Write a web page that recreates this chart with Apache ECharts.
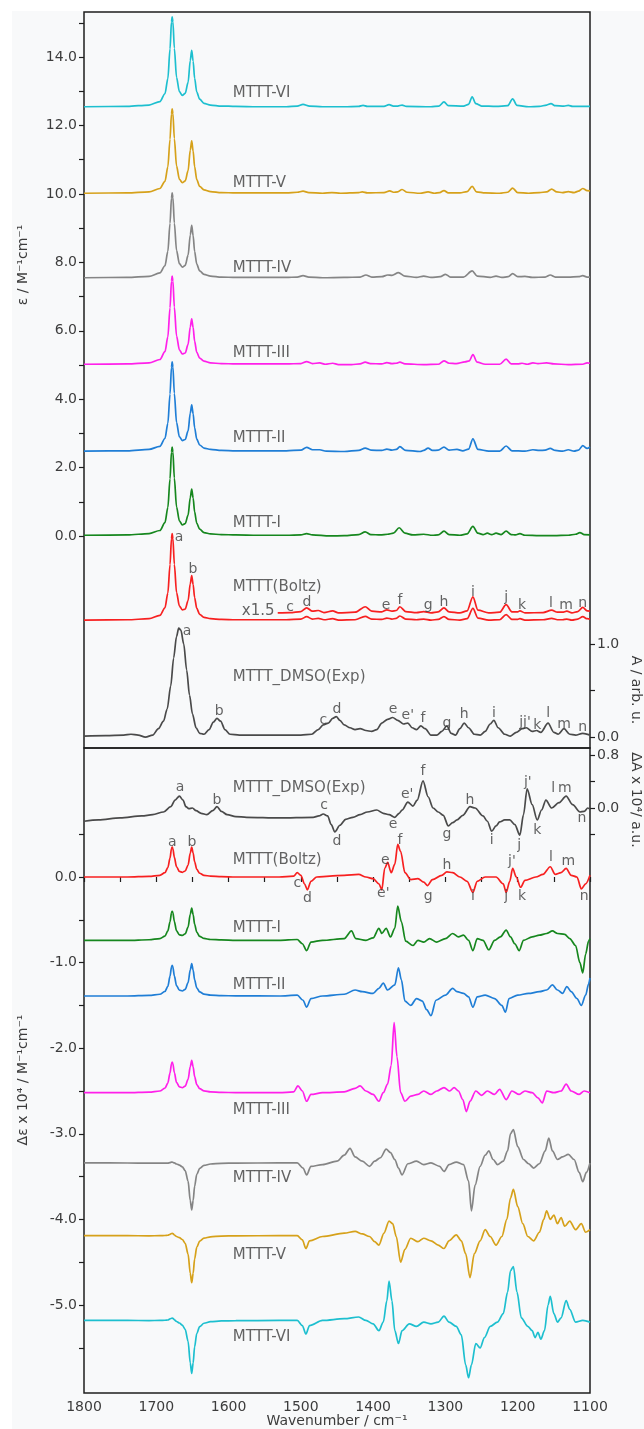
<!DOCTYPE html>
<html>
<head>
<meta charset="utf-8">
<script src="https://cdn.jsdelivr.net/npm/echarts@6/dist/echarts.min.js"></script>
<style>html,body{margin:0;padding:0;background:#fff}#chart{width:644px;height:1429px}</style>
</head>
<body>
<div id="chart"></div>
<script>
// ---- tick values ----
var xLabelVals = [1100, 1200, 1300, 1400, 1500, 1600, 1700, 1800];
var topLeftTicks = [0, 1, 2, 3, 4, 5, 6, 7, 8, 9, 10, 11, 12, 13, 14, 15];
var topLeftLabels = [0, 2, 4, 6, 8, 10, 12, 14];
var topRightTicks = [0, 0.5, 1.0];
var topRightLabels = [0, 1.0];
var botLeftTicks = [-5.5, -5, -4.5, -4, -3.5, -3, -2.5, -2, -1.5, -1, -0.5, 0, 0.5];
var botLeftLabels = [-5, -4, -3, -2, -1, 0];
var botRightTicks = [-0.4, 0, 0.4, 0.8];
var botRightLabels = [0, 0.8];

// ---- IR spectra (epsilon, offset) ----
var irVI = [[1800,12.55],[1740,12.56],[1710,12.6],[1695,12.7],[1688,12.93],[1684,13.37],[1681,14.24],[1679,15.03],[1678,15.18],[1677,15.03],[1675,14.26],[1672,13.41],[1668,12.99],[1664,12.88],[1660,12.94],[1656,13.26],[1653,13.9],[1651,14.2],[1649,13.88],[1647,13.39],[1644,12.98],[1640,12.77],[1634,12.65],[1625,12.6],[1610,12.57],[1590,12.56],
  [1560,12.55],[1520,12.55],[1505,12.57],[1497,12.62],[1488,12.57],[1470,12.55],[1440,12.55],[1420,12.56],[1414,12.59],[1408,12.56],[1385,12.56],[1378,12.61],[1372,12.57],[1366,12.57],[1360,12.6],[1354,12.56],[1320,12.55],[1309,12.57],[1302,12.69],[1296,12.58],[1275,12.57],[1268,12.62],[1263,12.84],[1258,12.64],[1250,12.57],[1230,12.56],[1214,12.58],[1207,12.78],[1201,12.59],[1185,12.55],[1170,12.56],[1160,12.6],[1154,12.64],[1148,12.58],[1136,12.57],[1130,12.59],[1124,12.56],[1100,12.56]];
var irV = [[1800,10.02],[1740,10.03],[1710,10.06],[1695,10.16],[1688,10.37],[1684,10.79],[1681,11.6],[1679,12.34],[1678,12.49],[1677,12.35],[1675,11.62],[1672,10.82],[1668,10.43],[1664,10.33],[1660,10.38],[1656,10.68],[1653,11.28],[1651,11.55],[1649,11.25],[1647,10.8],[1644,10.42],[1640,10.22],[1634,10.12],[1625,10.07],[1610,10.04],[1590,10.03],
  [1560,10.03],[1520,10.03],[1505,10.05],[1497,10.08],[1489,10.04],[1470,10.02],[1457,10.04],[1445,10.02],[1420,10.04],[1415,10.06],[1408,10.03],[1385,10.04],[1377,10.09],[1372,10.05],[1366,10.06],[1360,10.13],[1353,10.05],[1335,10.02],[1324,10.06],[1315,10.02],[1308,10.04],[1302,10.1],[1296,10.03],[1280,10.03],[1270,10.07],[1263,10.22],[1257,10.06],[1245,10.03],[1225,10.02],[1214,10.05],[1207,10.17],[1200,10.04],[1185,10.02],[1170,10.04],[1160,10.06],[1153,10.14],[1146,10.06],[1138,10.04],[1130,10.07],[1122,10.04],[1116,10.08],[1110,10.16],[1104,10.1],[1100,10.09]];
var irIV = [[1800,7.55],[1740,7.56],[1710,7.59],[1695,7.69],[1688,7.9],[1684,8.32],[1681,9.14],[1679,9.88],[1678,10.03],[1677,9.89],[1675,9.15],[1672,8.35],[1668,7.96],[1664,7.86],[1660,7.91],[1656,8.21],[1653,8.8],[1651,9.08],[1649,8.78],[1647,8.32],[1644,7.95],[1640,7.75],[1634,7.65],[1625,7.6],[1610,7.57],[1590,7.56],
  [1560,7.56],[1520,7.56],[1505,7.57],[1497,7.61],[1489,7.57],[1470,7.55],[1440,7.56],[1418,7.57],[1410,7.63],[1402,7.57],[1388,7.58],[1380,7.63],[1374,7.62],[1365,7.7],[1356,7.6],[1340,7.56],[1330,7.6],[1320,7.56],[1307,7.58],[1300,7.65],[1293,7.57],[1275,7.57],[1263,7.75],[1256,7.6],[1238,7.56],[1230,7.6],[1222,7.56],[1213,7.58],[1207,7.67],[1200,7.58],[1190,7.59],[1180,7.56],[1162,7.57],[1155,7.63],[1148,7.57],[1130,7.57],[1116,7.58],[1110,7.61],[1104,7.57],[1100,7.57]];
var irIII = [[1800,5.02],[1740,5.03],[1710,5.06],[1695,5.16],[1688,5.39],[1684,5.82],[1681,6.67],[1679,7.45],[1678,7.6],[1677,7.45],[1675,6.69],[1672,5.85],[1668,5.44],[1664,5.32],[1660,5.35],[1656,5.6],[1653,6.11],[1651,6.35],[1649,6.09],[1647,5.7],[1644,5.37],[1640,5.2],[1634,5.11],[1625,5.06],[1610,5.04],[1590,5.03],
  [1560,5.03],[1520,5.03],[1500,5.04],[1492,5.1],[1484,5.04],[1474,5.06],[1466,5.02],[1456,5.05],[1448,5.01],[1430,5.01],[1418,5.03],[1411,5.08],[1404,5.04],[1388,5.03],[1381,5.07],[1374,5.04],[1368,5.05],[1363,5.08],[1356,5.03],[1330,5.01],[1310,5.02],[1302,5.12],[1295,5.05],[1285,5.04],[1273,5.09],[1267,5.12],[1262,5.3],[1256,5.08],[1245,5.02],[1225,5.02],[1216,5.17],[1209,5.03],[1200,5.03],[1194,5.05],[1187,5.02],[1179,5.06],[1172,5.04],[1160,5.06],[1150,5.03],[1130,5.01],[1110,5.02],[1104,5.06],[1100,5.05]];
var irII = [[1800,2.48],[1740,2.49],[1710,2.53],[1695,2.62],[1688,2.85],[1684,3.29],[1681,4.15],[1679,4.93],[1678,5.09],[1677,4.94],[1675,4.17],[1672,3.32],[1668,2.9],[1664,2.79],[1660,2.82],[1656,3.07],[1653,3.59],[1651,3.83],[1649,3.57],[1647,3.17],[1644,2.83],[1640,2.66],[1634,2.57],[1625,2.53],[1610,2.5],[1590,2.49],
  [1560,2.49],[1520,2.49],[1500,2.51],[1492,2.59],[1484,2.52],[1474,2.52],[1465,2.48],[1440,2.47],[1420,2.5],[1411,2.57],[1403,2.51],[1388,2.5],[1381,2.54],[1374,2.51],[1368,2.53],[1363,2.61],[1355,2.5],[1335,2.47],[1330,2.5],[1324,2.57],[1318,2.5],[1310,2.51],[1302,2.6],[1295,2.51],[1284,2.53],[1276,2.49],[1268,2.54],[1262,2.84],[1255,2.53],[1240,2.48],[1225,2.48],[1216,2.63],[1208,2.49],[1190,2.48],[1179,2.52],[1170,2.5],[1162,2.51],[1155,2.56],[1148,2.5],[1138,2.48],[1130,2.52],[1122,2.48],[1116,2.51],[1110,2.64],[1104,2.56],[1100,2.6]];
var irI = [[1800,0.02],[1740,0.03],[1710,0.07],[1695,0.16],[1688,0.39],[1684,0.83],[1681,1.67],[1679,2.45],[1678,2.6],[1677,2.45],[1675,1.69],[1672,0.85],[1668,0.44],[1664,0.32],[1660,0.36],[1656,0.61],[1653,1.12],[1651,1.37],[1649,1.11],[1647,0.71],[1644,0.37],[1640,0.2],[1634,0.1],[1625,0.06],[1610,0.04],[1590,0.03],
  [1560,0.02],[1520,0.02],[1500,0.03],[1492,0.07],[1484,0.03],[1460,0.0],[1440,0.01],[1420,0.04],[1411,0.12],[1403,0.04],[1390,0.03],[1380,0.05],[1372,0.08],[1364,0.24],[1356,0.08],[1345,0.03],[1330,0.05],[1318,0.02],[1310,0.03],[1302,0.14],[1295,0.04],[1280,0.02],[1270,0.06],[1262,0.28],[1255,0.08],[1248,0.04],[1242,0.08],[1236,0.04],[1230,0.08],[1223,0.04],[1216,0.14],[1209,0.04],[1203,0.03],[1197,0.07],[1190,0.02],[1170,0.01],[1150,0.01],[1130,0.02],[1120,0.05],[1114,0.1],[1108,0.04],[1100,0.03]];
var irBoltz = [[1800,-2.46],[1740,-2.45],[1710,-2.42],[1695,-2.32],[1688,-2.1],[1684,-1.67],[1681,-0.84],[1679,-0.08],[1678,0.07],[1677,-0.08],[1675,-0.83],[1672,-1.65],[1668,-2.05],[1664,-2.16],[1660,-2.14],[1656,-1.89],[1653,-1.4],[1651,-1.16],[1649,-1.42],[1647,-1.8],[1644,-2.12],[1640,-2.29],[1634,-2.38],[1625,-2.42],[1610,-2.44],[1590,-2.45],
  [1560,-2.45],[1520,-2.45],[1500,-2.43],[1492,-2.36],[1484,-2.43],[1476,-2.41],[1468,-2.45],[1456,-2.42],[1448,-2.46],[1425,-2.45],[1411,-2.35],[1402,-2.43],[1388,-2.44],[1381,-2.4],[1374,-2.43],[1368,-2.41],[1363,-2.34],[1355,-2.43],[1340,-2.45],[1330,-2.43],[1320,-2.46],[1310,-2.44],[1302,-2.36],[1295,-2.44],[1280,-2.46],[1270,-2.42],[1262,-2.12],[1255,-2.4],[1240,-2.46],[1225,-2.45],[1216,-2.3],[1208,-2.44],[1200,-2.44],[1197,-2.42],[1190,-2.46],[1165,-2.45],[1153,-2.41],[1145,-2.45],[1138,-2.45],[1132,-2.43],[1125,-2.46],[1117,-2.43],[1110,-2.36],[1104,-2.42],[1100,-2.43]];
var irBoltz15 = [[1532,-2.25],[1515,-2.24],[1500,-2.21],[1492,-2.1],[1484,-2.2],[1476,-2.18],[1468,-2.24],[1456,-2.19],[1448,-2.25],[1425,-2.23],[1411,-2.07],[1402,-2.2],[1388,-2.22],[1381,-2.16],[1374,-2.2],[1368,-2.18],[1363,-2.07],[1355,-2.21],[1340,-2.24],[1330,-2.21],[1320,-2.25],[1310,-2.22],[1302,-2.1],[1295,-2.22],[1280,-2.25],[1270,-2.19],[1262,-1.78],[1255,-2.17],[1240,-2.25],[1225,-2.23],[1216,-2.01],[1208,-2.22],[1200,-2.22],[1197,-2.19],[1190,-2.25],[1165,-2.24],[1153,-2.17],[1145,-2.23],[1138,-2.23],[1132,-2.2],[1125,-2.25],[1117,-2.21],[1110,-2.09],[1104,-2.19],[1100,-2.2]];
// experimental absorbance (right axis, A)
var irExp = [[1800,0.01],[1770,0.015],[1745,0.02],[1735,0.03],[1725,0.02],[1715,0.0],[1705,0.02],[1697,0.09],[1690,0.17],[1685,0.3],[1680,0.55],[1676,0.85],[1672,1.08],[1669,1.17],[1666,1.15],[1662,1.0],[1658,0.72],[1654,0.45],[1650,0.25],[1645,0.1],[1640,0.04],[1634,0.03],[1627,0.08],[1621,0.16],[1616,0.2],[1611,0.17],[1605,0.08],[1598,0.03],[1585,0.02],[1550,0.02],[1500,0.02],[1485,0.03],[1476,0.08],[1469,0.13],[1462,0.15],[1456,0.2],[1451,0.22],[1446,0.18],[1440,0.13],[1432,0.1],[1425,0.08],[1418,0.09],[1410,0.07],[1402,0.06],[1395,0.08],[1388,0.15],[1380,0.19],[1373,0.21],[1366,0.18],[1358,0.14],[1352,0.15],[1346,0.1],[1340,0.08],[1334,0.12],[1328,0.09],[1320,0.02],[1312,0.02],[1305,0.06],[1298,0.12],[1292,0.04],[1286,0.02],[1280,0.09],[1274,0.15],[1268,0.1],[1260,0.03],[1252,0.02],[1245,0.06],[1238,0.14],[1233,0.18],[1227,0.1],[1218,0.03],[1210,0.01],[1202,0.05],[1194,0.09],[1188,0.1],[1180,0.06],[1174,0.07],[1168,0.05],[1158,0.15],[1150,0.05],[1144,0.03],[1136,0.09],[1128,0.03],[1120,0.02],[1110,0.04],[1100,0.02]];

// ---- VCD spectra (delta epsilon, offset) ----
var vcdExp = [[1800,-0.2],[1780,-0.18],[1750,-0.15],[1720,-0.12],[1705,-0.1],[1690,-0.06],[1680,0.02],[1674,0.12],[1668,0.18],[1663,0.12],[1659,0.02],[1655,-0.01],[1650,0.0],[1645,-0.04],[1638,-0.08],[1630,-0.1],[1622,-0.04],[1616,0.02],[1610,-0.05],[1602,-0.1],[1590,-0.13],[1575,-0.14],[1530,-0.15],[1483,-0.14],[1475,-0.12],[1469,-0.09],[1463,-0.12],[1458,-0.25],[1453,-0.36],[1446,-0.26],[1438,-0.17],[1428,-0.14],[1418,-0.1],[1408,-0.06],[1395,-0.03],[1386,-0.08],[1378,-0.1],[1370,-0.14],[1364,-0.08],[1360,-0.03],[1352,0.09],[1345,0.03],[1339,0.12],[1331,0.41],[1324,0.17],[1317,0.0],[1310,-0.06],[1303,-0.11],[1296,-0.27],[1290,-0.22],[1284,-0.18],[1276,-0.11],[1266,0.02],[1259,0.0],[1248,-0.12],[1242,-0.2],[1236,-0.35],[1230,-0.27],[1225,-0.21],[1218,-0.18],[1211,-0.18],[1204,-0.25],[1197,-0.41],[1192,-0.1],[1187,0.29],[1180,0.05],[1173,-0.18],[1167,-0.03],[1161,0.12],[1153,0.0],[1143,0.08],[1133,0.18],[1124,0.05],[1114,-0.06],[1108,-0.05],[1103,0.0],[1100,-0.02]];
var vcdBoltz = [[1800,0],[1740,0],[1710,0.007],[1695,0.02],[1688,0.05],[1684,0.11],[1681,0.22],[1679,0.33],[1678,0.35],[1677,0.33],[1675,0.23],[1672,0.12],[1668,0.065],[1664,0.055],[1660,0.07],[1656,0.14],[1653,0.28],[1651,0.35],[1649,0.28],[1647,0.18],[1644,0.09],[1640,0.044],[1634,0.02],[1625,0.01],[1610,0.005],[1590,0],
  [1530,0],[1510,0.01],[1505,0.05],[1500,0.02],[1495,-0.08],[1491,-0.15],[1486,-0.05],[1478,0.0],[1460,0.01],[1440,0.02],[1420,0.03],[1410,0.0],[1400,-0.02],[1392,-0.08],[1388,-0.15],[1384,0.1],[1380,0.17],[1375,0.05],[1370,0.15],[1366,0.38],[1362,0.3],[1356,0.05],[1348,-0.03],[1338,-0.02],[1330,-0.06],[1325,-0.1],[1318,-0.03],[1305,0.02],[1298,0.06],[1290,0.05],[1280,0.0],[1270,-0.05],[1262,-0.18],[1256,-0.05],[1245,0.0],[1230,0.0],[1220,-0.08],[1216,-0.18],[1211,-0.05],[1207,0.1],[1202,0.0],[1196,-0.12],[1190,-0.04],[1175,0.0],[1165,0.03],[1155,0.12],[1148,0.03],[1140,0.05],[1133,0.1],[1126,0.02],[1118,0.0],[1112,-0.14],[1106,-0.08],[1100,0.02]];
var vcdI = [[1800,-0.74],[1740,-0.74],[1710,-0.733],[1695,-0.72],[1688,-0.69],[1684,-0.63],[1681,-0.523],[1679,-0.42],[1678,-0.4],[1677,-0.42],[1675,-0.52],[1672,-0.63],[1668,-0.675],[1664,-0.683],[1660,-0.663],[1656,-0.585],[1653,-0.436],[1651,-0.363],[1649,-0.438],[1647,-0.55],[1644,-0.645],[1640,-0.693],[1634,-0.718],[1625,-0.73],[1610,-0.735],[1590,-0.74],
  [1530,-0.74],[1505,-0.73],[1498,-0.78],[1492,-0.86],[1486,-0.76],[1470,-0.74],[1440,-0.72],[1430,-0.63],[1424,-0.72],[1410,-0.74],[1400,-0.71],[1392,-0.6],[1388,-0.66],[1382,-0.6],[1376,-0.7],[1370,-0.6],[1366,-0.34],[1361,-0.52],[1355,-0.75],[1345,-0.8],[1338,-0.74],[1330,-0.76],[1322,-0.72],[1312,-0.76],[1300,-0.72],[1290,-0.66],[1282,-0.7],[1275,-0.68],[1268,-0.74],[1262,-0.86],[1256,-0.72],[1248,-0.74],[1240,-0.85],[1232,-0.74],[1224,-0.7],[1216,-0.62],[1210,-0.7],[1204,-0.78],[1198,-0.86],[1192,-0.74],[1180,-0.7],[1170,-0.68],[1160,-0.66],[1152,-0.63],[1145,-0.66],[1135,-0.67],[1128,-0.72],[1120,-0.8],[1114,-1.0],[1110,-1.12],[1106,-0.9],[1102,-0.75],[1100,-0.72]];
var vcdII = [[1800,-1.39],[1740,-1.39],[1710,-1.383],[1695,-1.37],[1688,-1.337],[1684,-1.277],[1681,-1.159],[1679,-1.053],[1678,-1.032],[1677,-1.053],[1675,-1.156],[1672,-1.269],[1668,-1.322],[1664,-1.332],[1660,-1.312],[1656,-1.234],[1653,-1.085],[1651,-1.013],[1649,-1.088],[1647,-1.2],[1644,-1.295],[1640,-1.343],[1634,-1.368],[1625,-1.38],[1610,-1.386],[1590,-1.389],
  [1530,-1.39],[1505,-1.38],[1497,-1.44],[1492,-1.52],[1486,-1.42],[1470,-1.39],[1440,-1.37],[1425,-1.32],[1415,-1.34],[1400,-1.36],[1392,-1.3],[1386,-1.24],[1380,-1.32],[1370,-1.26],[1365,-1.06],[1361,-1.2],[1356,-1.45],[1348,-1.5],[1340,-1.42],[1332,-1.45],[1326,-1.55],[1320,-1.62],[1313,-1.44],[1300,-1.38],[1290,-1.3],[1284,-1.34],[1275,-1.36],[1268,-1.4],[1262,-1.52],[1256,-1.4],[1245,-1.38],[1232,-1.42],[1222,-1.5],[1217,-1.58],[1212,-1.42],[1200,-1.38],[1185,-1.36],[1170,-1.34],[1160,-1.32],[1152,-1.26],[1145,-1.32],[1138,-1.36],[1132,-1.28],[1126,-1.34],[1118,-1.42],[1112,-1.5],[1106,-1.38],[1102,-1.25],[1100,-1.18]];
var vcdIII = [[1800,-2.52],[1740,-2.52],[1710,-2.513],[1695,-2.5],[1688,-2.467],[1684,-2.407],[1681,-2.289],[1679,-2.183],[1678,-2.162],[1677,-2.183],[1675,-2.286],[1672,-2.399],[1668,-2.452],[1664,-2.462],[1660,-2.442],[1656,-2.364],[1653,-2.215],[1651,-2.143],[1649,-2.218],[1647,-2.33],[1644,-2.425],[1640,-2.473],[1634,-2.498],[1625,-2.51],[1610,-2.516],[1590,-2.519],
  [1530,-2.52],[1510,-2.51],[1504,-2.44],[1498,-2.5],[1492,-2.62],[1486,-2.54],[1470,-2.52],[1440,-2.51],[1425,-2.47],[1418,-2.44],[1410,-2.5],[1400,-2.54],[1392,-2.62],[1386,-2.52],[1380,-2.42],[1375,-2.2],[1371,-1.7],[1367,-2.1],[1362,-2.52],[1356,-2.62],[1348,-2.56],[1338,-2.54],[1330,-2.5],[1320,-2.54],[1312,-2.5],[1302,-2.46],[1294,-2.5],[1288,-2.46],[1282,-2.5],[1276,-2.6],[1271,-2.74],[1266,-2.62],[1258,-2.5],[1250,-2.55],[1242,-2.5],[1232,-2.54],[1225,-2.48],[1216,-2.6],[1208,-2.5],[1198,-2.54],[1190,-2.5],[1180,-2.52],[1172,-2.58],[1166,-2.64],[1160,-2.5],[1150,-2.52],[1140,-2.5],[1133,-2.42],[1126,-2.5],[1115,-2.54],[1108,-2.5],[1100,-2.52]];
var vcdIV = [[1800,-3.34],[1740,-3.341],[1710,-3.342],[1695,-3.343],[1688,-3.343],[1684,-3.342],[1681,-3.336],[1679,-3.332],[1678,-3.332],[1677,-3.334],[1675,-3.34],[1672,-3.353],[1668,-3.366],[1664,-3.386],[1660,-3.43],[1656,-3.554],[1653,-3.78],[1651,-3.89],[1649,-3.78],[1647,-3.615],[1644,-3.475],[1640,-3.404],[1634,-3.369],[1625,-3.353],[1610,-3.345],[1590,-3.342],
  [1530,-3.34],[1505,-3.34],[1497,-3.4],[1492,-3.48],[1486,-3.38],[1470,-3.36],[1450,-3.32],[1440,-3.25],[1432,-3.17],[1425,-3.27],[1415,-3.32],[1405,-3.38],[1398,-3.32],[1390,-3.28],[1382,-3.18],[1376,-3.22],[1370,-3.3],[1365,-3.4],[1360,-3.48],[1352,-3.35],[1340,-3.32],[1330,-3.36],[1320,-3.34],[1308,-3.38],[1302,-3.44],[1295,-3.36],[1285,-3.33],[1275,-3.36],[1268,-3.55],[1264,-3.9],[1259,-3.6],[1252,-3.38],[1245,-3.25],[1240,-3.2],[1234,-3.3],[1228,-3.36],[1220,-3.32],[1214,-3.2],[1210,-3.0],[1206,-2.95],[1200,-3.15],[1192,-3.3],[1185,-3.35],[1178,-3.4],[1170,-3.35],[1162,-3.2],[1157,-3.05],[1152,-3.2],[1145,-3.3],[1138,-3.27],[1130,-3.24],[1122,-3.3],[1115,-3.45],[1110,-3.56],[1105,-3.45],[1100,-3.34]];
var vcdV = [[1800,-4.19],[1740,-4.19],[1710,-4.192],[1695,-4.19],[1688,-4.188],[1684,-4.185],[1681,-4.175],[1679,-4.165],[1678,-4.163],[1677,-4.166],[1675,-4.182],[1672,-4.2],[1668,-4.214],[1664,-4.235],[1660,-4.28],[1656,-4.405],[1653,-4.63],[1651,-4.74],[1649,-4.63],[1647,-4.465],[1644,-4.325],[1640,-4.254],[1634,-4.219],[1625,-4.203],[1610,-4.195],[1590,-4.192],
  [1530,-4.19],[1505,-4.19],[1498,-4.24],[1493,-4.34],[1488,-4.25],[1470,-4.2],[1440,-4.16],[1425,-4.14],[1415,-4.17],[1405,-4.2],[1398,-4.26],[1392,-4.3],[1385,-4.16],[1378,-4.02],[1373,-4.05],[1368,-4.2],[1362,-4.5],[1356,-4.35],[1348,-4.22],[1338,-4.26],[1330,-4.22],[1320,-4.25],[1310,-4.3],[1302,-4.34],[1295,-4.25],[1285,-4.18],[1278,-4.25],[1272,-4.4],[1266,-4.68],[1260,-4.4],[1252,-4.25],[1245,-4.12],[1238,-4.2],[1230,-4.3],[1222,-4.2],[1215,-4.0],[1210,-3.75],[1206,-3.65],[1200,-3.85],[1193,-4.05],[1186,-4.2],[1178,-4.25],[1170,-4.15],[1164,-4.0],[1160,-3.9],[1155,-4.0],[1150,-3.95],[1145,-4.05],[1140,-3.98],[1135,-4.08],[1128,-4.02],[1120,-4.12],[1112,-4.05],[1106,-4.15],[1100,-4.12]];
var vcdVI = [[1800,-5.18],[1740,-5.18],[1710,-5.182],[1695,-5.18],[1688,-5.178],[1684,-5.175],[1681,-5.163],[1679,-5.155],[1678,-5.153],[1677,-5.156],[1675,-5.173],[1672,-5.193],[1668,-5.21],[1664,-5.235],[1660,-5.285],[1656,-5.425],[1653,-5.676],[1651,-5.8],[1649,-5.676],[1647,-5.49],[1644,-5.333],[1640,-5.253],[1634,-5.213],[1625,-5.195],[1610,-5.186],[1590,-5.183],
  [1530,-5.18],[1505,-5.18],[1498,-5.24],[1493,-5.34],[1488,-5.24],[1470,-5.18],[1440,-5.16],[1420,-5.14],[1410,-5.18],[1400,-5.22],[1392,-5.3],[1386,-5.2],[1381,-4.95],[1378,-4.72],[1374,-4.95],[1370,-5.3],[1365,-5.45],[1360,-5.3],[1350,-5.22],[1340,-5.25],[1330,-5.2],[1320,-5.22],[1310,-5.2],[1302,-5.13],[1295,-5.2],[1285,-5.25],[1278,-5.35],[1272,-5.7],[1268,-5.85],[1264,-5.7],[1258,-5.45],[1252,-5.5],[1246,-5.38],[1238,-5.25],[1228,-5.2],[1220,-5.1],[1214,-4.85],[1210,-4.6],[1206,-4.55],[1201,-4.85],[1195,-5.15],[1186,-5.25],[1180,-5.3],[1176,-5.38],[1172,-5.32],[1168,-5.4],[1163,-5.3],[1158,-5.0],[1155,-4.9],[1150,-5.1],[1145,-5.2],[1140,-5.15],[1133,-4.95],[1128,-5.05],[1120,-5.2],[1110,-5.18],[1100,-5.2]];

// ---- annotations: [wavenumber, value, text] ----
var topNames = [[1595,12.95,'MTTT-VI'],[1595,10.32,'MTTT-V'],[1595,7.84,'MTTT-IV'],[1595,5.35,'MTTT-III'],[1595,2.87,'MTTT-II'],[1595,0.38,'MTTT-I'],[1595,-1.49,'MTTT(Boltz)'],[1595,-4.12,'MTTT_DMSO(Exp)']];
var topScale = [[1559,-2.19,'x1.5']];
var topLetters = [[1668.6,-0.03,'a'],[1649.2,-0.99,'b'],[1515,-2.1,'c'],[1491.5,-1.93,'d'],[1382,-2.02,'e'],[1363,-1.87,'f'],[1324,-2.02,'g'],[1302,-1.93,'h'],[1262,-1.64,'i'],[1216,-1.81,'j'],[1194,-2.02,'k'],[1154,-1.96,'l'],[1133,-2.02,'m'],[1110,-1.96,'n'],
  [1657.5,-2.78,'a'],[1613,-5.12,'b'],[1469,-5.38,'c'],[1450,-5.06,'d'],[1372.5,-5.06,'e'],[1352,-5.26,"e'"],[1331,-5.32,'f'],[1298,-5.47,'g'],[1274,-5.23,'h'],[1233,-5.18,'i'],[1190,-5.44,"jj'"],[1173,-5.53,'k'],[1158,-5.18,'l'],[1136,-5.5,'m'],[1110,-5.61,'n']];
var botNames = [[1595,1.04,'MTTT_DMSO(Exp)'],[1595,0.2,'MTTT(Boltz)'],[1595,-0.6,'MTTT-I'],[1595,-1.26,'MTTT-II'],[1595,-2.72,'MTTT-III'],[1595,-3.52,'MTTT-IV'],[1595,-4.42,'MTTT-V'],[1595,-5.37,'MTTT-VI']];
var botLetters = [[1667,1.05,'a'],[1616,0.9,'b'],[1468,0.84,'c'],[1450,0.42,'d'],[1372.5,0.61,'e'],[1353,0.96,"e'"],[1331,1.23,'f'],[1298,0.5,'g'],[1266,0.89,'h'],[1236,0.43,'i'],[1198,0.37,'j'],[1186,1.11,"j'"],[1173,0.55,'k'],[1151,1.04,'l'],[1135,1.04,'m'],[1111,0.69,'n'],
  [1678,0.41,'a'],[1650.6,0.41,'b'],[1505,-0.07,'c'],[1491,-0.25,'d'],[1383,0.2,'e'],[1386,-0.19,"e'"],[1363,0.43,'f'],[1324,-0.23,'g'],[1298,0.14,'h'],[1262,-0.23,'i'],[1216,-0.23,'j'],[1208,0.18,"j'"],[1194,-0.23,'k'],[1154,0.23,'l'],[1130,0.18,'m'],[1108,-0.23,'n']];

var FONT = 'DejaVu Sans';
var TXT = '#3c3c3c';
var AX = '#1e1e1e';

function fmt1(v) { var s = Number(v).toFixed(1); return s === '-0.0' ? '0.0' : s; }

function line(data, color, xi, yi) {
    return {
        type: 'line', data: data, xAxisIndex: xi, yAxisIndex: yi,
        showSymbol: false, smooth: 0.3, smoothMonotone: 'x', silent: true,
        lineStyle: {color: color, width: 1.7}, z: 3
    };
}

function labels(data, xi, yi, pos, size) {
    return {
        type: 'scatter', data: data, xAxisIndex: xi, yAxisIndex: yi,
        symbolSize: 1, itemStyle: {color: 'rgba(0,0,0,0)'}, silent: true, z: 5,
        label: {
            show: true, position: pos, distance: 0, color: TXT,
            fontFamily: FONT, fontSize: size,
            formatter: function (p) { return p.value[2]; }
        }
    };
}

function yAx(grid, pos, min, max, ticks, labs) {
    return {
        type: 'value', gridIndex: grid, position: pos, min: min, max: max,
        axisLine: {show: false}, splitLine: {show: false},
        axisTick: {show: true, inside: false, length: 5, customValues: ticks, lineStyle: {color: AX, width: 1.2}},
        axisLabel: {show: true, margin: 7, customValues: labs, color: TXT, fontFamily: FONT, fontSize: 14, formatter: fmt1}
    };
}

var option = {
    backgroundColor: '#ffffff',
    animation: false,
    graphic: [
        {type: 'rect', z: -10, shape: {x: 12, y: 11, width: 632, height: 1418}, style: {fill: '#f8f9fa'}},
        {type: 'text', x: 23, y: 265, rotation: Math.PI / 2, style: {text: 'ε / M⁻¹cm⁻¹', font: '14px "DejaVu Sans"', fill: TXT, align: 'center', verticalAlign: 'middle'}},
        {type: 'text', x: 23, y: 1080, rotation: Math.PI / 2, style: {text: 'Δε x 10⁴ / M⁻¹cm⁻¹', font: '14px "DejaVu Sans"', fill: TXT, align: 'center', verticalAlign: 'middle'}},
        {type: 'text', x: 636, y: 690, rotation: -Math.PI / 2, style: {text: 'A / arb. u.', font: '14px "DejaVu Sans"', fill: TXT, align: 'center', verticalAlign: 'middle'}},
        {type: 'text', x: 636, y: 800, rotation: -Math.PI / 2, style: {text: 'ΔA x 10⁴/ a.u.', font: '14px "DejaVu Sans"', fill: TXT, align: 'center', verticalAlign: 'middle'}},
        {type: 'text', x: 337, y: 1421, style: {text: 'Wavenumber / cm⁻¹', font: '14px "DejaVu Sans"', fill: TXT, align: 'center', verticalAlign: 'middle'}}
    ],
    grid: [
        {left: 84, right: 54, top: 12, height: 736, show: true, borderColor: AX, borderWidth: 1.5, backgroundColor: 'transparent'},
        {left: 84, right: 54, top: 748, height: 645, show: true, borderColor: AX, borderWidth: 1.5, backgroundColor: 'transparent'}
    ],
    xAxis: [
        {type: 'value', gridIndex: 0, min: 1100, max: 1800, inverse: true,
         axisLine: {show: false}, axisTick: {show: false}, axisLabel: {show: false}, splitLine: {show: false}},
        {type: 'value', gridIndex: 1, min: 1100, max: 1800, interval: 50, inverse: true, position: 'bottom',
         axisLine: {show: false}, splitLine: {show: false},
         axisTick: {show: true, inside: false, length: 5, lineStyle: {color: AX, width: 1.2}},
         axisLabel: {show: true, margin: 7, color: TXT, fontFamily: FONT, fontSize: 14,
                     customValues: xLabelVals, formatter: function (v) { return String(v); }}}
    ],
    yAxis: [
        yAx(0, 'left', -6.2, 15.32, topLeftTicks, topLeftLabels),
        yAx(0, 'right', -0.118, 7.796, topRightTicks, topRightLabels),
        yAx(1, 'left', -6.028, 1.507, botLeftTicks, botLeftLabels),
        yAx(1, 'right', -8.83, 0.906, botRightTicks, botRightLabels)
    ],
    series: [
        line(irVI, '#1dbfcf', 0, 0),
        line(irV, '#d6a11a', 0, 0),
        line(irIV, '#858585', 0, 0),
        line(irIII, '#ff20ea', 0, 0),
        line(irII, '#1f7ed6', 0, 0),
        line(irI, '#16871e', 0, 0),
        line(irBoltz, '#f72020', 0, 0),
        line(irBoltz15, '#f72020', 0, 0),
        line(irExp, '#4a4a4a', 0, 1),
        line(vcdExp, '#4a4a4a', 1, 3),
        line(vcdBoltz, '#f72020', 1, 2),
        line(vcdI, '#16871e', 1, 2),
        line(vcdII, '#1f7ed6', 1, 2),
        line(vcdIII, '#ff20ea', 1, 2),
        line(vcdIV, '#858585', 1, 2),
        line(vcdV, '#d6a11a', 1, 2),
        line(vcdVI, '#1dbfcf', 1, 2),
        labels(topNames, 0, 0, 'right', 15),
        labels(topScale, 0, 0, 'inside', 15),
        labels(topLetters, 0, 0, 'inside', 14),
        labels(botNames, 1, 2, 'right', 15),
        labels(botLetters, 1, 2, 'inside', 14)
    ]
};

var chart = echarts.init(document.getElementById('chart'));
chart.setOption(option);
</script>
</body>
</html>
